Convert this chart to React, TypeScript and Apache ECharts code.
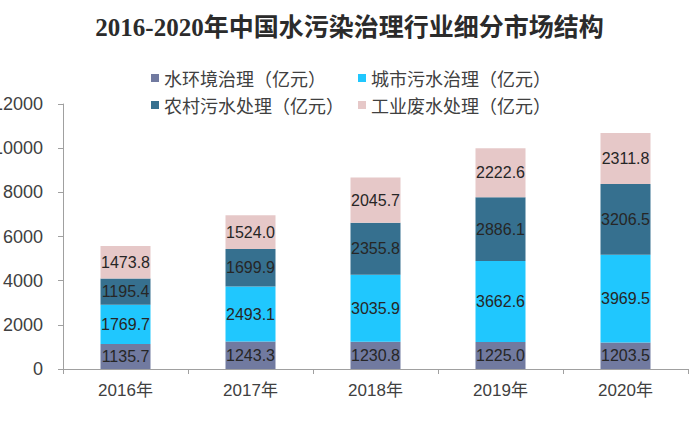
import React, { useEffect, useRef } from "react";
import * as echarts from "echarts";

const categories = ["2016年", "2017年", "2018年", "2019年", "2020年"];
const seriesNames = ["水环境治理（亿元）", "城市污水治理（亿元）", "农村污水处理（亿元）", "工业废水处理（亿元）"];
const waterEnv = [1135.7, 1243.3, 1230.8, 1225.0, 1203.5];
const urbanSewage = [1769.7, 2493.1, 3035.9, 3662.6, 3969.5];
const ruralSewage = [1195.4, 1699.9, 2355.8, 2886.1, 3206.5];
const industrialWaste = [1473.8, 1524.0, 2045.7, 2222.6, 2311.8];
const colors = ["#717AA0", "#20C7FE", "#36708F", "#E6C8C8"];

export default function App() {
  const ref = useRef<HTMLDivElement>(null);
  useEffect(() => {
    if (!ref.current) return;
    const chart = echarts.init(ref.current, null, { renderer: "svg" });
    const allData = [waterEnv, urbanSewage, ruralSewage, industrialWaste];
    const legendPos = [
      { left: 146, top: 64 },
      { left: 353, top: 64 },
      { left: 146, top: 91 },
      { left: 353, top: 91 },
    ];
    chart.setOption({
      animation: false,
      color: colors,
      title: {
        text: "2016-2020年中国水污染治理行业细分市场结构",
        left: "center",
        top: 10,
        textStyle: {
          fontFamily: "'Liberation Serif', 'Noto Sans CJK SC', serif",
          fontWeight: "bold",
          fontSize: 25,
          color: "#2b2b2b",
        },
      },
      legend: seriesNames.map((name, i) => ({
        data: [name],
        left: legendPos[i].left,
        top: legendPos[i].top,
        itemWidth: 8,
        itemHeight: 8,
        icon: "rect",
        textStyle: {
          fontSize: 18,
          color: "#404040",
          fontFamily: "'Noto Sans CJK SC', sans-serif",
        },
      })),
      grid: {
        left: 63,
        right: 11,
        top: 104,
        bottom: 67,
        containLabel: false,
        outerBoundsMode: "none",
      },
      xAxis: {
        type: "category",
        data: categories,
        axisLine: { lineStyle: { color: "#A0A0A0" } },
        axisTick: { show: true, length: 5, lineStyle: { color: "#A0A0A0" } },
        axisLabel: {
          fontSize: 17,
          color: "#404040",
          margin: 13,
          fontFamily: "'Liberation Sans', 'Noto Sans CJK SC', sans-serif",
        },
      },
      yAxis: {
        type: "value",
        min: 0,
        max: 12000,
        interval: 2000,
        splitLine: { show: false },
        axisLine: { show: true, lineStyle: { color: "#A0A0A0" } },
        axisTick: { show: true, length: 5, lineStyle: { color: "#A0A0A0" } },
        axisLabel: {
          fontSize: 18,
          color: "#404040",
          margin: 20,
          fontFamily: "'Liberation Sans', sans-serif",
          formatter: (v: number) => String(v),
        },
      },
      series: seriesNames.map((name, i) => ({
        name,
        type: "bar",
        stack: "total",
        barWidth: 50,
        data: allData[i],
        itemStyle: { color: colors[i] },
        label: {
          show: true,
          position: "inside",
          fontSize: 16,
          color: "#262626",
          fontFamily: "'Liberation Sans', sans-serif",
          formatter: (p: any) => Number(p.value).toFixed(1),
        },
      })),
    });
    return () => chart.dispose();
  }, []);
  return (
    <div
      ref={ref}
      style={{ position: "fixed", left: 0, top: 0, width: 699, height: 436, background: "#fff" }}
    />
  );
}
